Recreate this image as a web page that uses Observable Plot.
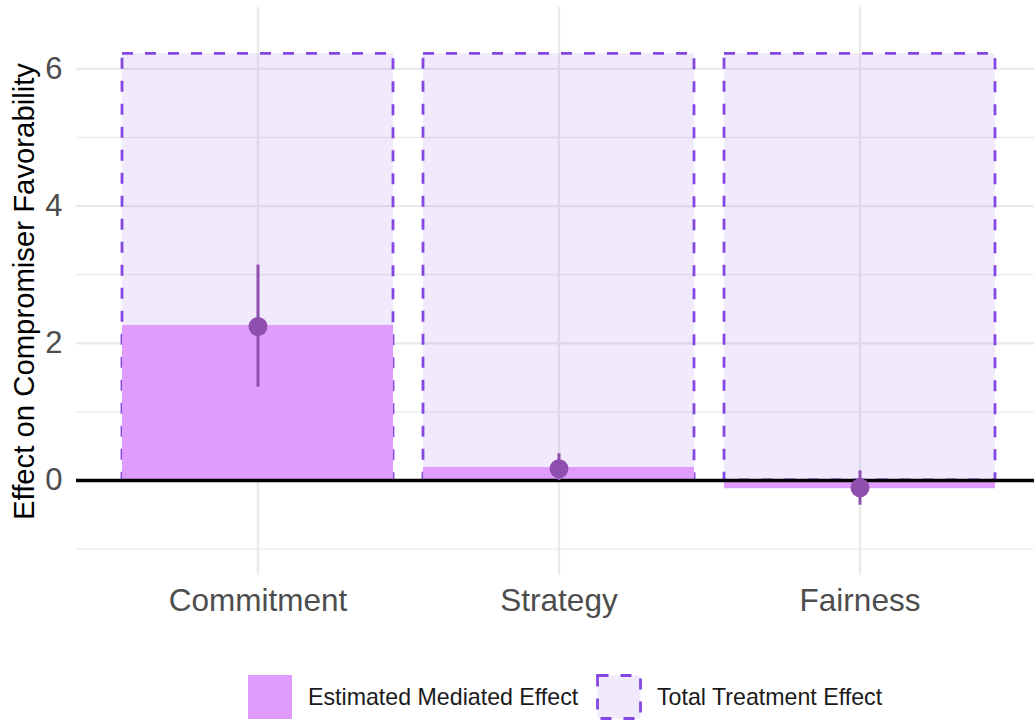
<!DOCTYPE html>
<html>
<head>
<meta charset="utf-8">
<script src="https://cdn.jsdelivr.net/npm/d3@7"></script>
<script src="https://cdn.jsdelivr.net/npm/@observablehq/plot@0.6"></script>
<style>
  html, body { margin: 0; padding: 0; background: #fff; }
  body { width: 1034px; font-family: "Liberation Sans", Arial, sans-serif; }
  #legend { position: relative; width: 1034px; height: 71px; }
  #legend .key { position: absolute; top: 25px; }
  #legend .lab { position: absolute; top: 25px; height: 44px; line-height: 44px; font-size: 23.2px; color: #1a1a1a; white-space: nowrap; }
</style>
</head>
<body>
<div id="chart"></div>
<div id="legend"></div>
<script>
// Mediation decomposition by mechanism
const categories = ["Commitment", "Strategy", "Fairness"];
const totalEffect = [6.22, 6.22, 6.22];
const mediatedEffect = [2.26, 0.19, -0.12];
const estimate = [2.245, 0.17, -0.105];
const ciLower = [1.36, 0.0, -0.36];
const ciUpper = [3.14, 0.39, 0.14];
const majorTicks = [0, 2, 4, 6];
const minorTicks = [-1, 1, 3, 5];
const yTitle = "Effect on Compromiser Favorability";
const legendLabels = ["Estimated Mediated Effect", "Total Treatment Effect"];

const rows = categories.map((c, i) => ({
  cat: c,
  total: totalEffect[i],
  mediated: mediatedEffect[i],
  est: estimate[i],
  lo: ciLower[i],
  hi: ciUpper[i]
}));

const mediatedFill = "#E09CFC";
const totalFill = "#7F3FE0";
const totalStroke = "#8447E3";
const pointColor = "#8E4FAF";
const gridColor = "#EBEBEB";

const chart = Plot.plot({
  width: 1034,
  height: 650,
  marginLeft: 76,
  marginRight: 0,
  marginTop: 7,
  marginBottom: 75,
  style: { fontFamily: "'Liberation Sans', Arial, sans-serif", background: "white", overflow: "visible" },
  x: { type: "band", domain: categories, range: [106.25, 1010.75], paddingInner: 0.1, paddingOuter: 0.05 },
  y: { domain: [-1.385, 6.895], range: [575, 7] },
  marks: [
    Plot.gridY(minorTicks, { stroke: gridColor, strokeOpacity: 1, strokeWidth: 1.3 }),
    Plot.gridY(majorTicks, { stroke: gridColor, strokeOpacity: 1, strokeWidth: 2.4 }),
    Plot.gridX(categories, { stroke: gridColor, strokeOpacity: 1, strokeWidth: 2.4 }),
    Plot.barY(rows, {
      x: "cat", y: "total",
      fill: totalFill, fillOpacity: 0.11,
      stroke: totalStroke, strokeWidth: 2.8, strokeDasharray: "11,12"
    }),
    Plot.barY(rows, { x: "cat", y: "mediated", fill: mediatedFill }),
    Plot.ruleY([0], { stroke: "black", strokeWidth: 3.4 }),
    Plot.ruleX(rows, { x: "cat", y1: "lo", y2: "hi", stroke: pointColor, strokeWidth: 3 }),
    Plot.dot(rows, { x: "cat", y: "est", r: 9.5, fill: pointColor }),
    Plot.axisY(majorTicks, {
      tickSize: 0, tickPadding: 14, fontSize: 31, color: "#4D4D4D", label: null,
      tickFormat: d => String(d)
    }),
    Plot.axisX({
      tickSize: 0, tickPadding: 13, fontSize: 31.5, color: "#4D4D4D", label: null
    }),
    Plot.text([yTitle], {
      frameAnchor: "left", rotate: -90, dx: -43,
      lineAnchor: "bottom", textAnchor: "middle",
      fontSize: 29.3, fill: "#000"
    })
  ]
});
document.getElementById("chart").appendChild(chart);

// Legend below the plot
const legend = d3.select("#legend");
const keys = [
  { left: 248, text: legendLabels[0], textLeft: 308, kind: "mediated" },
  { left: 597, text: legendLabels[1], textLeft: 657, kind: "total" }
];
keys.forEach(k => {
  const svg = legend.append("svg")
    .attr("class", "key")
    .attr("width", 46).attr("height", 46)
    .style("left", (k.left - 1) + "px")
    .style("top", "24px");
  if (k.kind === "mediated") {
    svg.append("rect").attr("x", 1).attr("y", 1).attr("width", 44).attr("height", 44)
      .attr("fill", mediatedFill);
  } else {
    svg.append("rect").attr("x", 1.5).attr("y", 1.5).attr("width", 43).attr("height", 43)
      .attr("fill", totalFill).attr("fill-opacity", 0.11)
      .attr("stroke", totalStroke).attr("stroke-width", 2.8)
      .attr("stroke-dasharray", "11,12");
  }
  legend.append("div").attr("class", "lab")
    .style("left", k.textLeft + "px")
    .text(k.text);
});
</script>
</body>
</html>
